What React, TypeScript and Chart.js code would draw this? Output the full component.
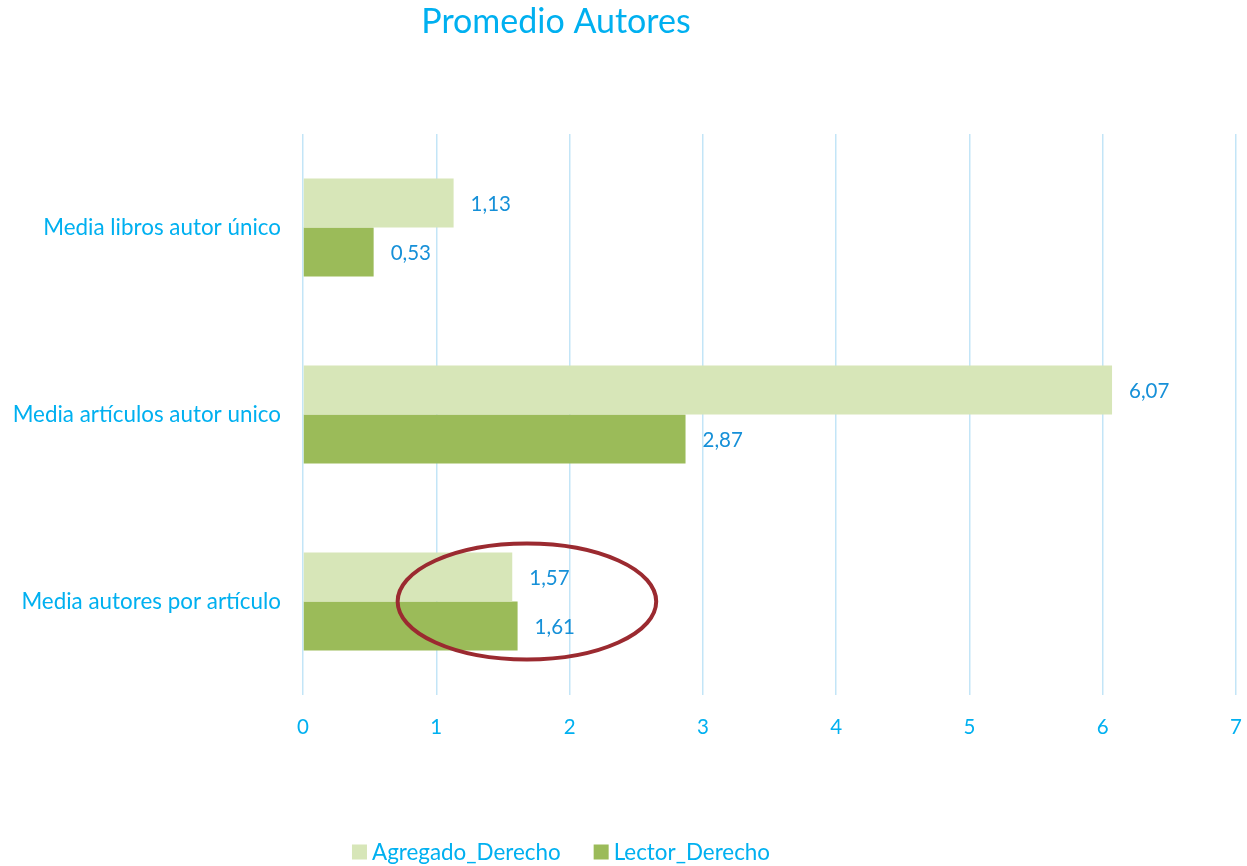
import React, { useEffect, useRef } from "react";
import { Chart, registerables } from "chart.js";

Chart.register(...registerables);

const categories = ["Media libros autor único", "Media artículos autor unico", "Media autores por artículo"];
const agregadoValues = [1.13, 6.07, 1.57];
const lectorValues = [0.53, 2.87, 1.61];
const seriesNames = ["Agregado_Derecho", "Lector_Derecho"];
const seriesColors = ["#d7e6b8", "#9bbb59"];
const xTicks = [0, 1, 2, 3, 4, 5, 6, 7];
const titleText = "Promedio Autores";
// highlight ellipse (data units): center value, category index, half width value, half height fraction of band
const ellipseCenterValue = 1.68;
const ellipseCategory = 2;
const ellipseHalfWidth = 0.97;
const ellipseHalfHeightBand = 0.31;

const FONT = "Lato, 'Open Sans', sans-serif";
const AXIS_BLUE = "#00b0f0";
const LABEL_BLUE = "#1690d8";

const decorPlugin = {
  id: "decor",
  afterDatasetsDraw(chart: any) {
    const ctx = chart.ctx;
    ctx.save();
    ctx.font = `20.5px ${FONT}`;
    ctx.fillStyle = LABEL_BLUE;
    ctx.textAlign = "left";
    ctx.textBaseline = "middle";
    chart.data.datasets.forEach((ds: any, di: number) => {
      const meta = chart.getDatasetMeta(di);
      meta.data.forEach((bar: any, i: number) => {
        const v = ds.data[i];
        ctx.fillText(v.toFixed(2).replace(".", ","), bar.x + 17, bar.y + 1);
      });
    });
    // ellipse annotation
    const xs = chart.scales.x;
    const ys = chart.scales.y;
    const cx = xs.getPixelForValue(ellipseCenterValue);
    const rx = xs.getPixelForValue(ellipseCenterValue + ellipseHalfWidth) - cx;
    const cy = ys.getPixelForValue(ellipseCategory);
    const band = ys.getPixelForValue(1) - ys.getPixelForValue(0);
    const ry = band * ellipseHalfHeightBand;
    ctx.beginPath();
    ctx.ellipse(cx, cy, rx, ry, 0, 0, Math.PI * 2);
    ctx.strokeStyle = "#9b2a30";
    ctx.lineWidth = 4;
    ctx.stroke();
    ctx.restore();
  },
  afterDraw(chart: any) {
    const ctx = chart.ctx;
    ctx.save();
    // title
    ctx.font = `34px ${FONT}`;
    ctx.fillStyle = AXIS_BLUE;
    ctx.textAlign = "center";
    ctx.textBaseline = "middle";
    ctx.fillText(titleText, 556, 22);
    // legend
    ctx.font = `22.4px ${FONT}`;
    const box = 15;
    const gapBoxText = 5;
    const gapItems = 33;
    const widths = seriesNames.map((n) => box + gapBoxText + ctx.measureText(n).width);
    const total = widths.reduce((a, b) => a + b, 0) + gapItems * (widths.length - 1);
    let x = 561 - total / 2;
    const y = 852;
    ctx.textAlign = "left";
    seriesNames.forEach((n, i) => {
      ctx.fillStyle = seriesColors[i];
      ctx.fillRect(x, y - box / 2, box, box);
      ctx.fillStyle = AXIS_BLUE;
      ctx.fillText(n, x + box + gapBoxText, y + 1);
      x += widths[i] + gapItems;
    });
    ctx.restore();
  },
};

export default function App() {
  const ref = useRef<HTMLCanvasElement>(null);
  useEffect(() => {
    const chart = new Chart(ref.current as HTMLCanvasElement, {
      type: "bar",
      data: {
        labels: categories,
        datasets: [
          { label: seriesNames[0], data: agregadoValues, backgroundColor: seriesColors[0] },
          { label: seriesNames[1], data: lectorValues, backgroundColor: seriesColors[1] },
        ],
      },
      options: {
        indexAxis: "y",
        animation: false,
        responsive: false,
        maintainAspectRatio: false,
        layout: { padding: { top: 134, left: 0, right: 11, bottom: 121 } },
        datasets: { bar: { categoryPercentage: 0.524, barPercentage: 1 } },
        plugins: {
          legend: { display: false },
          title: { display: false },
          tooltip: { enabled: false },
        },
        scales: {
          x: {
            min: 0,
            max: 7,
            afterBuildTicks: (s: any) => {
              s.ticks = xTicks.map((v) => ({ value: v }));
            },
            afterFit: (s: any) => {
              s.height = 50;
              s.paddingLeft = 0;
              s.paddingRight = 0;
            },
            grid: { color: "#c3e5f7", lineWidth: 1.5, drawTicks: false },
            border: { display: false },
            ticks: { color: AXIS_BLUE, font: { family: FONT, size: 20.5 }, padding: 20 },
          },
          y: {
            afterFit: (s: any) => {
              s.width = 303;
              s.paddingTop = 0;
              s.paddingBottom = 0;
            },
            grid: { display: false },
            border: { display: false },
            ticks: { color: AXIS_BLUE, font: { family: FONT, size: 22.4 }, padding: 14 },
          },
        },
      },
      plugins: [decorPlugin],
    });
    return () => chart.destroy();
  }, []);
  return (
    <div style={{ position: "fixed", left: 0, top: 0, width: 1247, height: 866, background: "#fff" }}>
      <canvas ref={ref} width={1247} height={866} style={{ display: "block" }} />
    </div>
  );
}
